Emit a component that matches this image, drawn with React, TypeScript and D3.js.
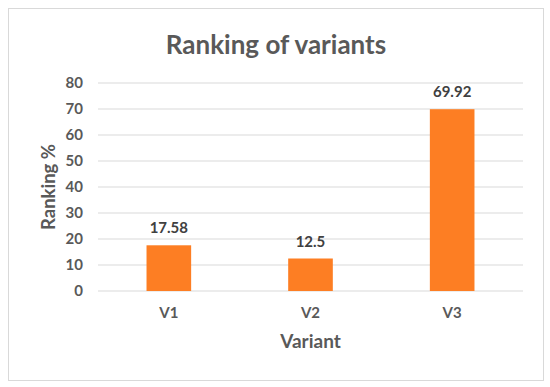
import React from 'react';
import * as d3 from 'd3';

const variants = ['V1', 'V2', 'V3'];
const ranking = [17.58, 12.5, 69.92];
const yTicks = [0, 10, 20, 30, 40, 50, 60, 70, 80];

const W = 550;
const H = 387;
const margin = { top: 83, right: 27, bottom: 96, left: 98 };
const FONT = 'Lato, "Open Sans", sans-serif';
const GREY = '#595959';

export default function App() {
  const x = d3.scaleBand()
    .domain(variants)
    .range([margin.left, W - margin.right])
    .paddingInner(0.685)
    .paddingOuter(0.3425);

  const y = d3.scaleLinear()
    .domain([0, 80])
    .range([H - margin.bottom, margin.top]);

  return (
    <svg width={W} height={H} style={{ position: 'absolute', left: 0, top: 0, fontFamily: FONT }}>
      <rect x={8.5} y={8.5} width={535} height={372} fill="#fff" stroke="#d9d9d9" />
      <text x={W / 2 + 1} y={54} textAnchor="middle" fontSize={26} fontWeight={700} fill={GREY}>
        Ranking of variants
      </text>

      {/* gridlines + y tick labels */}
      {yTicks.map(t => (
        <g key={t}>
          <line x1={margin.left} x2={W - margin.right} y1={y(t)} y2={y(t)} stroke="#d9d9d9" strokeWidth={1} />
          <text x={83} y={y(t)} dy="0.36em" textAnchor="end" fontSize={15} fontWeight={700} fill={GREY}>
            {t}
          </text>
        </g>
      ))}

      {/* bars + labels */}
      {variants.map((v, i) => (
        <g key={v}>
          <rect
            x={x(v)}
            y={y(ranking[i])}
            width={x.bandwidth()}
            height={y(0) - y(ranking[i])}
            fill="#fd7e23"
          />
          <text
            x={(x(v) ?? 0) + x.bandwidth() / 2}
            y={y(ranking[i]) - 12}
            textAnchor="middle"
            fontSize={15}
            fontWeight={700}
            fill="#404040"
          >
            {ranking[i]}
          </text>
          <text
            x={(x(v) ?? 0) + x.bandwidth() / 2}
            y={y(0) + 27}
            textAnchor="middle"
            fontSize={15}
            fontWeight={700}
            fill={GREY}
          >
            {v}
          </text>
        </g>
      ))}

      <text
        transform={`translate(55,${(y(0) + y(80)) / 2}) rotate(-90)`}
        textAnchor="middle"
        fontSize={18.5}
        fontWeight={700}
        fill={GREY}
      >
        Ranking %
      </text>
      <text x={(margin.left + W - margin.right) / 2} y={348} textAnchor="middle" fontSize={19} fontWeight={700} fill={GREY}>
        Variant
      </text>
    </svg>
  );
}
